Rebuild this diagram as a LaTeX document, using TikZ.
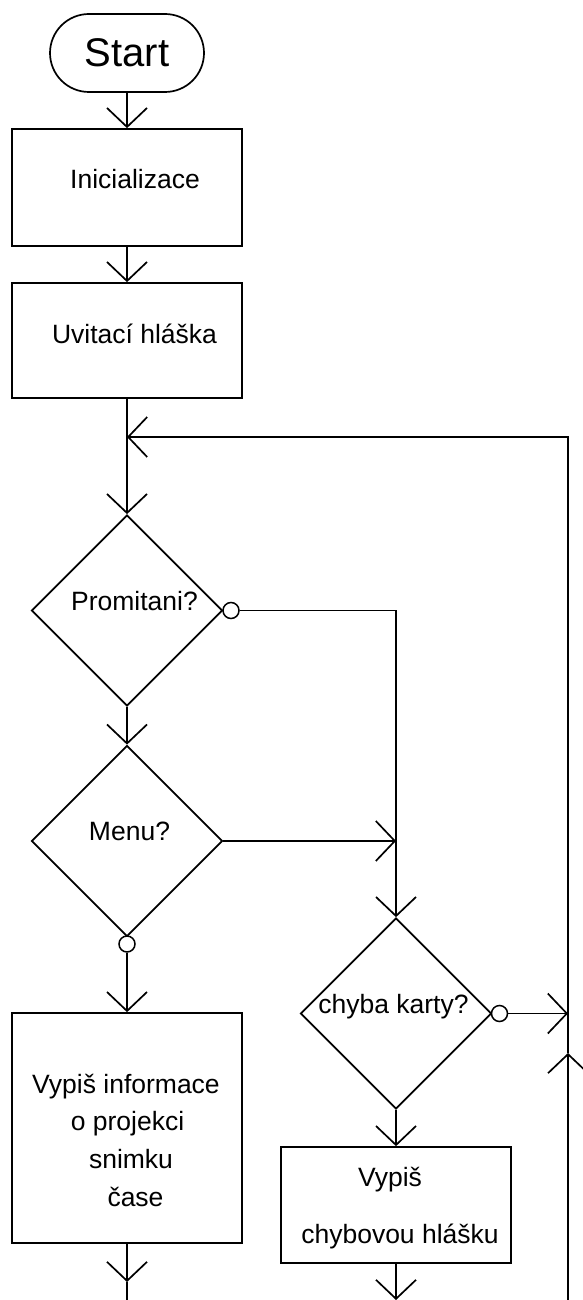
\documentclass[tikz,border=0pt]{standalone}
\usepackage{fontspec}
\setmainfont{Liberation Sans}
\usetikzlibrary{arrows.meta,shapes.geometric}
\begin{document}
\begin{tikzpicture}[x=1pt,y=-1pt,
  shapeline/.style={draw=black,line width=1.7pt},
  box/.style={shapeline,rectangle,minimum width=230pt,inner sep=0pt},
  decision/.style={shapeline,diamond,minimum width=191pt,minimum height=191pt,inner sep=0pt},
  term/.style={shapeline,rectangle,rounded corners=39pt,minimum width=154pt,minimum height=78pt,inner sep=0pt,font=\fontsize{40}{48}\selectfont},
  negc/.style={draw=black,line width=1.5pt,circle,fill=white,minimum size=16pt,inner sep=0pt},
  lbl/.style={anchor=base,inner sep=0pt,font=\fontsize{26.5}{32}\selectfont},
  barb/.style={-{Straight Barb[length=19pt,width=40pt,line width=1.7pt]}},
  flow/.style={line width=1.7pt,barb},
  route/.style={line width=1.3pt},
  routearrow/.style={route,barb},
]
\useasboundingbox (0,0) rectangle (582,1300);

% nodes
\node[term] (start) at (127,53) {Start};
\node[box,minimum height=117pt] (init) at (127,187.5) {};
\node[lbl] (initT) at (135,189) {Inicializace};
\node[box,minimum height=115pt] (uvit) at (127,340.5) {};
\node[lbl] (uvitT) at (134.5,343) {Uvitací hláška};
\node[decision] (prom) at (127,610.5) {};
\node[lbl] (promT) at (134.5,610) {Promitani?};
\node[negc] (promN) at (231,610.5) {};
\node[decision] (menu) at (127,841) {};
\node[lbl] (menuT) at (129.5,840) {Menu?};
\node[negc] (menuN) at (127,944) {};
\node[box,minimum height=230pt] (info) at (127,1128) {};
\node[lbl] (info1) at (126,1093) {Vypiš informace};
\node[lbl] (info2) at (127.5,1130) {o projekci};
\node[lbl] (info3) at (131,1168) {snimku};
\node[lbl] (info4) at (135.5,1206) {čase};
\node[decision] (chyba) at (396,1013.5) {};
\node[lbl] (chybaT) at (393.5,1013) {chyba karty?};
\node[negc] (chybaN) at (499.5,1013.5) {};
\node[box,minimum height=116pt] (err) at (396,1205) {};
\node[lbl] (err1) at (390,1186) {Vypiš};
\node[lbl] (err2) at (400,1243) {chybovou hlášku};

% helper coordinates
\coordinate (join) at (127,437);
\coordinate (loopTR) at (568,437);
\coordinate (loopBot) at (568,1300);
\coordinate (loopUp) at (568,1053);
\coordinate (promTurn) at (396,610.5);
\coordinate (menuJoin) at (396,841);
\coordinate (chybaJoin) at (568,1013.5);
\coordinate (infoMark) at (127,1282);
\coordinate (infoEnd) at (127,1300);
\coordinate (errEnd) at (396,1300);

% connectors
\draw[flow] (start.south) -- (init.north);
\draw[flow] (init.south) -- (uvit.north);
\draw[flow] (uvit.south) -- (prom.north);
\draw[routearrow] (loopBot) -- (loopUp);
\draw[routearrow] (loopUp) -- (loopTR) -- (join);
\draw[flow] (prom.south) -- (menu.north);
\draw[route] (promN.east) -- (promTurn) -- (menuJoin);
\draw[routearrow] (menu.east) -- (menuJoin);
\draw[routearrow] (menuJoin) -- (chyba.north);
\draw[flow] (menuN.south) -- (info.north);
\draw[flow] (info.south) -- (infoMark);
\draw[line width=1.7pt] (infoMark) -- (infoEnd);
\draw[routearrow] (chybaN.east) -- (chybaJoin);
\draw[flow] (chyba.south) -- (err.north);
\draw[flow] (err.south) -- (errEnd);
\end{tikzpicture}
\end{document}
